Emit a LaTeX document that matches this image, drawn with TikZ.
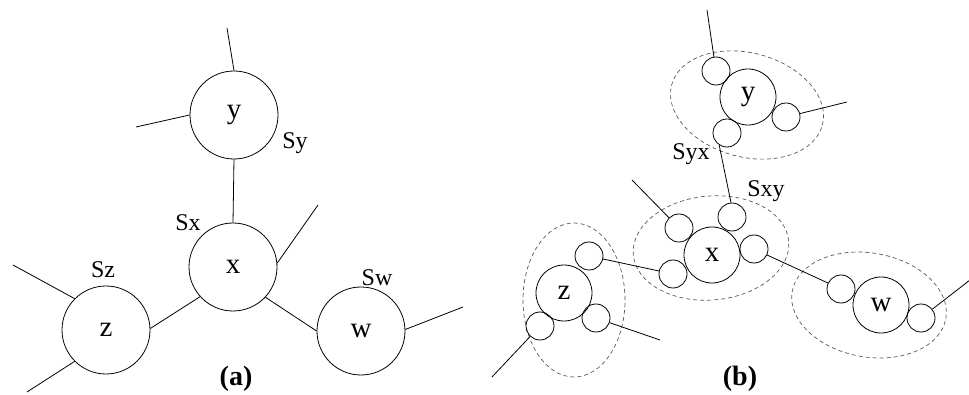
\documentclass[tikz,border=0pt]{standalone}
\usepackage{fontspec}
\setmainfont{Liberation Serif}
\begin{document}
\begin{tikzpicture}[x=1pt,y=-1pt,line width=.8pt,
	every node/.style={inner sep=0pt,font=\fontsize{24}{28}\selectfont},
	bigv/.style={circle,draw,minimum size=88pt,font=\fontsize{29}{32}\selectfont},
	grpv/.style={circle,draw,minimum size=56pt,font=\fontsize{29}{32}\selectfont},
	subv/.style={circle,draw,minimum size=28pt},
	cluster/.style={draw=black!65,line width=.7pt,dash pattern=on 4pt off 3pt},
	panel/.style={font=\fontsize{28}{32}\selectfont\bfseries}]
	\useasboundingbox (0,0) rectangle (969,395);
	% (a)
	\node[bigv] (y) at (234,115) {y};
	\node[bigv] (x) at (233,267) {x};
	\node[bigv] (z) at (106,330) {z};
	\node[bigv] (w) at (361,331) {w};
	\node (Sy) at (295,143) {Sy};
	\node (Sx) at (188,223) {Sx};
	\node (Sz) at (103,270) {Sz};
	\node (Sw) at (377,278) {Sw};
	\coordinate (yN) at (227,28);
	\coordinate (yW) at (136,127);
	\coordinate (xNE) at (318,205);
	\coordinate (zNW) at (13,265);
	\coordinate (zSW) at (27,392);
	\coordinate (wE) at (463,307);
	\draw (y.north) -- (yN);
	\draw (y.180) -- (yW);
	\draw (y.south) -- (x.north);
	\draw (x.5) -- (xNE);
	\draw (x.222) -- (z.2);
	\draw (x.317) -- (w.180);
	\draw (z.135) -- (zNW);
	\draw (z.225) -- (zSW);
	\draw (w.2) -- (wE);
	\node[panel] (capA) at (236,379) {(a)};
	% (b)
	\draw[cluster] (747,105) ellipse [x radius=78pt,y radius=52pt,rotate=-15];
	\draw[cluster] (711,248) ellipse [x radius=78pt,y radius=52pt,rotate=5];
	\draw[cluster] (574,300) ellipse [x radius=51pt,y radius=77pt];
	\draw[cluster] (869,305) ellipse [x radius=78pt,y radius=52pt,rotate=-10];
	\node[grpv] (gy) at (748,97) {y};
	\node[subv] (ya) at (716,71) {};
	\node[subv] (yb) at (786,117) {};
	\node[subv] (yc) at (727,133) {};
	\node[grpv] (gx) at (712,255) {x};
	\node[subv] (xa) at (679,228) {};
	\node[subv] (xb) at (732,217) {};
	\node[subv] (xc) at (754,249) {};
	\node[subv] (xd) at (673,274) {};
	\node[grpv] (gz) at (564,293) {z};
	\node[subv] (za) at (540,326) {};
	\node[subv] (zb) at (589,256) {};
	\node[subv] (zc) at (596,318) {};
	\node[grpv] (gw) at (881,305) {w};
	\node[subv] (wa) at (841,289) {};
	\node[subv] (wc) at (921,318) {};
	\node (Syx) at (691,154) {Syx};
	\node (Sxy) at (766,191) {Sxy};
	\coordinate (yaN) at (707,10);
	\coordinate (ybE) at (847,102);
	\coordinate (xaNW) at (632,180);
	\coordinate (zaSW) at (492,377);
	\coordinate (zcE) at (660,340);
	\coordinate (wcNE) at (970,280);
	\draw (ya) -- (yaN);
	\draw (yb) -- (ybE);
	\draw (yc.237) -- (xb.94);
	\draw (xa) -- (xaNW);
	\draw (xc) -- (wa);
	\draw (xd) -- (zb);
	\draw (za) -- (zaSW);
	\draw (zc) -- (zcE);
	\draw (wc) -- (wcNE);
	\node[panel] (capB) at (740,379) {(b)};
\end{tikzpicture}
\end{document}
